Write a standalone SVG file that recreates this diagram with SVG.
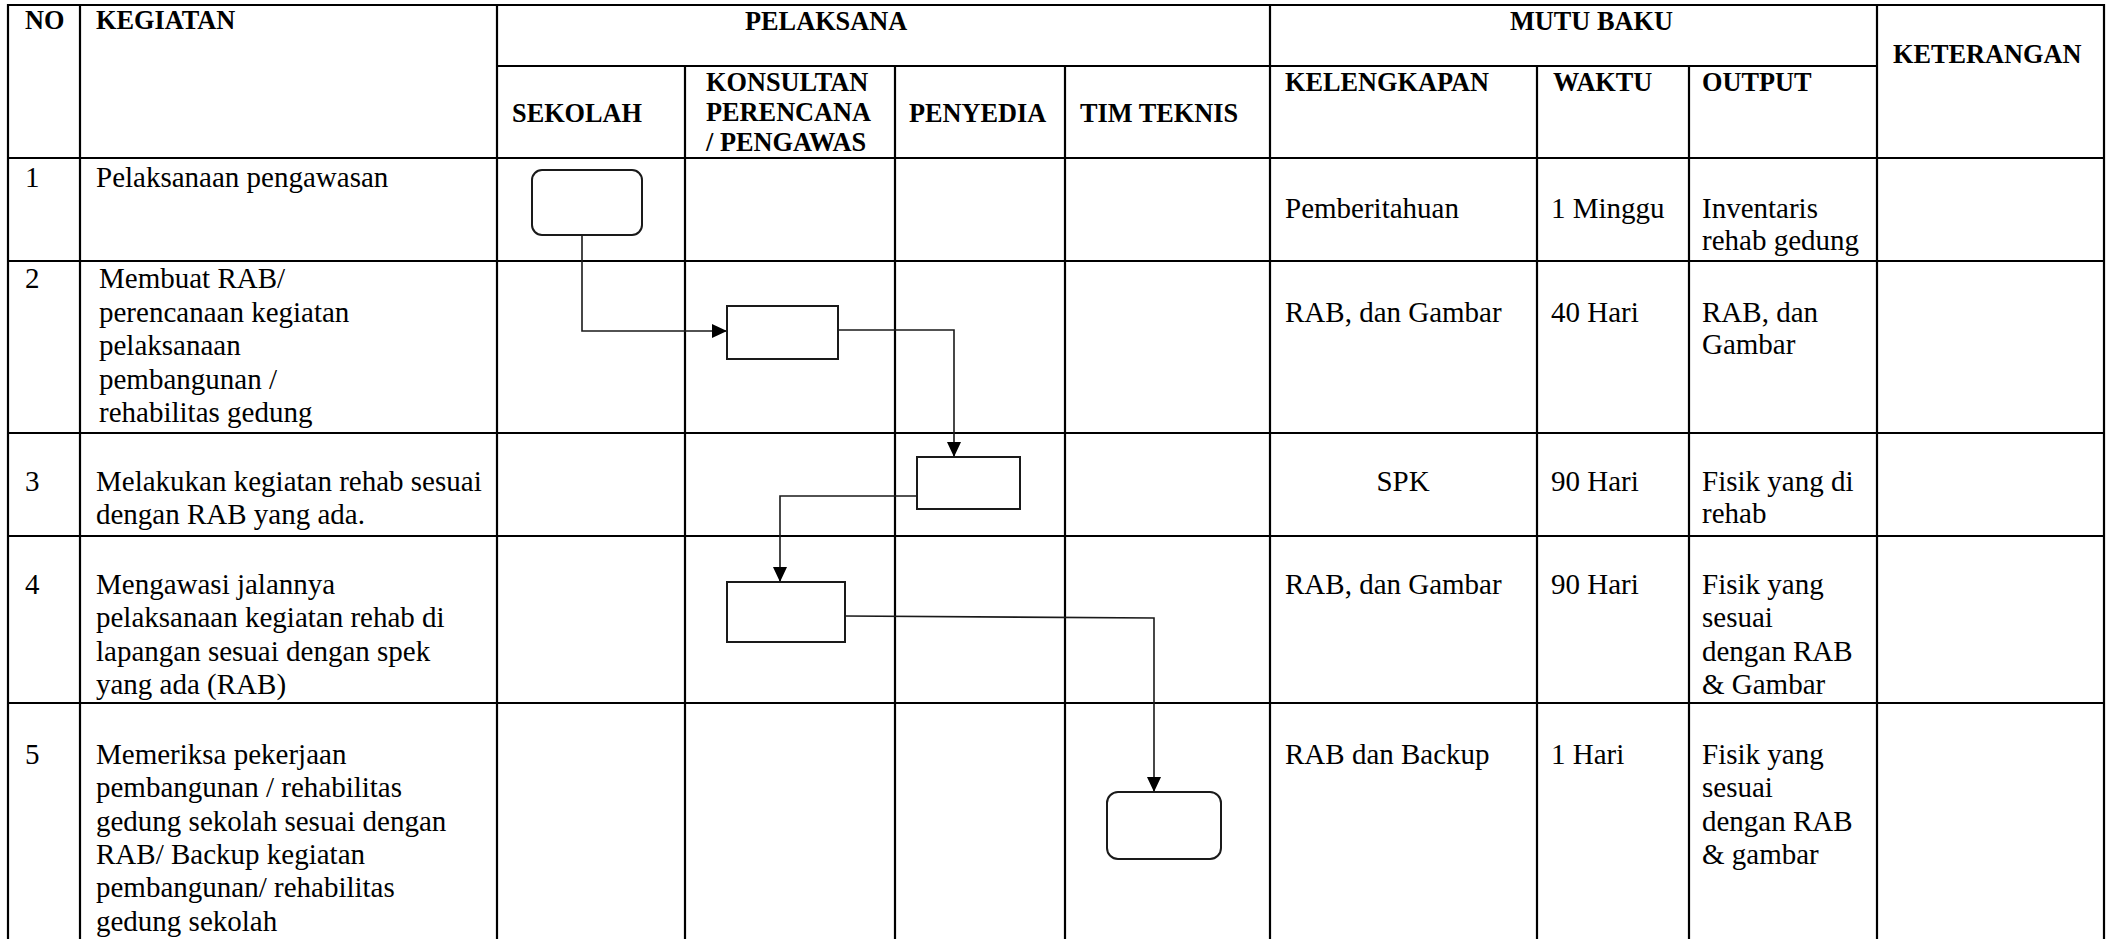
<svg xmlns="http://www.w3.org/2000/svg" width="2112" height="939" viewBox="0 0 2112 939">
<style>
.grid line{stroke:#000;stroke-width:2.2}
.h{font-family:"Liberation Serif","Times New Roman",serif;font-weight:bold;font-size:26.3px;fill:#000}
.t{font-family:"Liberation Serif","Times New Roman",serif;font-size:29px;fill:#000}
.node{fill:#fff;stroke:#1a1a1a;stroke-width:2}
.conn path{fill:none;stroke:#1a1a1a;stroke-width:1.6}
</style>
<defs>
<marker id="arr" markerUnits="userSpaceOnUse" markerWidth="15" markerHeight="14" refX="15" refY="7" orient="auto">
<path d="M0,0 L15,7 L0,14 z" fill="#000"/>
</marker>
</defs>
<rect width="2112" height="939" fill="#fff"/>
<g class="grid">
<line x1="7" y1="5" x2="2105" y2="5"/>
<line x1="497" y1="66" x2="1877" y2="66"/>
<line x1="7" y1="158" x2="2105" y2="158"/>
<line x1="7" y1="261" x2="2105" y2="261"/>
<line x1="7" y1="433" x2="2105" y2="433"/>
<line x1="7" y1="536" x2="2105" y2="536"/>
<line x1="7" y1="703" x2="2105" y2="703"/>
<line x1="8" y1="4" x2="8" y2="939"/>
<line x1="80" y1="4" x2="80" y2="939"/>
<line x1="497" y1="4" x2="497" y2="939"/>
<line x1="685" y1="66" x2="685" y2="939"/>
<line x1="895" y1="66" x2="895" y2="939"/>
<line x1="1065" y1="66" x2="1065" y2="939"/>
<line x1="1270" y1="4" x2="1270" y2="939"/>
<line x1="1537" y1="66" x2="1537" y2="939"/>
<line x1="1689" y1="66" x2="1689" y2="939"/>
<line x1="1877" y1="4" x2="1877" y2="939"/>
<line x1="2104" y1="4" x2="2104" y2="939"/>
</g>
<g id="header">
<text class="h" x="25" y="29">NO</text>
<text class="h" x="96" y="29">KEGIATAN</text>
<text class="h" x="745" y="30">PELAKSANA</text>
<text class="h" x="1510" y="30">MUTU BAKU</text>
<text class="h" x="1893" y="63">KETERANGAN</text>
<text class="h" x="512" y="122">SEKOLAH</text>
<text class="h" x="706" y="91">KONSULTAN</text>
<text class="h" x="706" y="121">PERENCANA</text>
<text class="h" x="706" y="151">/ PENGAWAS</text>
<text class="h" x="909" y="122">PENYEDIA</text>
<text class="h" x="1080" y="122">TIM TEKNIS</text>
<text class="h" x="1285" y="91">KELENGKAPAN</text>
<text class="h" x="1553" y="91">WAKTU</text>
<text class="h" x="1702" y="91">OUTPUT</text>
</g>
<g id="row1">
<text class="t" x="25" y="187">1</text>
<text class="t" x="96" y="187">Pelaksanaan pengawasan</text>
<text class="t" x="1285" y="218">Pemberitahuan</text>
<text class="t" x="1551" y="218">1 Minggu</text>
<text class="t" x="1702" y="218">Inventaris</text>
<text class="t" x="1702" y="250">rehab gedung</text>
</g>
<g id="row2">
<text class="t" x="25" y="288">2</text>
<text class="t" x="99" y="288">Membuat RAB/</text>
<text class="t" x="99" y="321.5">perencanaan kegiatan</text>
<text class="t" x="99" y="355">pelaksanaan</text>
<text class="t" x="99" y="388.5">pembangunan /</text>
<text class="t" x="99" y="422">rehabilitas gedung</text>
<text class="t" x="1285" y="322">RAB, dan Gambar</text>
<text class="t" x="1551" y="322">40 Hari</text>
<text class="t" x="1702" y="322">RAB, dan</text>
<text class="t" x="1702" y="354">Gambar</text>
</g>
<g id="row3">
<text class="t" x="25" y="491">3</text>
<text class="t" x="96" y="491">Melakukan kegiatan rehab sesuai</text>
<text class="t" x="96" y="524">dengan RAB yang ada.</text>
<text class="t" x="1403" y="491" text-anchor="middle">SPK</text>
<text class="t" x="1551" y="491">90 Hari</text>
<text class="t" x="1702" y="491">Fisik yang di</text>
<text class="t" x="1702" y="523">rehab</text>
</g>
<g id="row4">
<text class="t" x="25" y="594">4</text>
<text class="t" x="96" y="594">Mengawasi jalannya</text>
<text class="t" x="96" y="627">pelaksanaan kegiatan rehab di</text>
<text class="t" x="96" y="661">lapangan sesuai dengan spek</text>
<text class="t" x="96" y="694">yang ada (RAB)</text>
<text class="t" x="1285" y="594">RAB, dan Gambar</text>
<text class="t" x="1551" y="594">90 Hari</text>
<text class="t" x="1702" y="594">Fisik yang</text>
<text class="t" x="1702" y="627">sesuai</text>
<text class="t" x="1702" y="661">dengan RAB</text>
<text class="t" x="1702" y="694">&amp; Gambar</text>
</g>
<g id="row5">
<text class="t" x="25" y="764">5</text>
<text class="t" x="96" y="764">Memeriksa pekerjaan</text>
<text class="t" x="96" y="797">pembangunan / rehabilitas</text>
<text class="t" x="96" y="831">gedung sekolah sesuai dengan</text>
<text class="t" x="96" y="864">RAB/ Backup kegiatan</text>
<text class="t" x="96" y="897">pembangunan/ rehabilitas</text>
<text class="t" x="96" y="931">gedung sekolah</text>
<text class="t" x="1285" y="764">RAB dan Backup</text>
<text class="t" x="1551" y="764">1 Hari</text>
<text class="t" x="1702" y="764">Fisik yang</text>
<text class="t" x="1702" y="797">sesuai</text>
<text class="t" x="1702" y="831">dengan RAB</text>
<text class="t" x="1702" y="864">&amp; gambar</text>
</g>
<g class="conn" id="connectors">
<path d="M582,235 V331 H727" marker-end="url(#arr)"/>
<path d="M838,330 H954 V457" marker-end="url(#arr)"/>
<path d="M917,496 H780 V582" marker-end="url(#arr)"/>
<path d="M845,616 L1154,618 V792" marker-end="url(#arr)"/>
</g>
<g id="n1"><rect class="node" x="532" y="170" width="110" height="65" rx="10"/></g>
<g id="n2"><rect class="node" x="727" y="306" width="111" height="53"/></g>
<g id="n3"><rect class="node" x="917" y="457" width="103" height="52"/></g>
<g id="n4"><rect class="node" x="727" y="582" width="118" height="60"/></g>
<g id="n5"><rect class="node" x="1107" y="792" width="114" height="67" rx="11"/></g>
</svg>
